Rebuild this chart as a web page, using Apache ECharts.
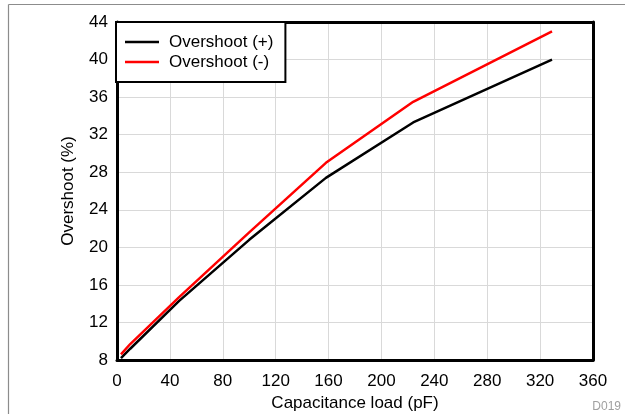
<!DOCTYPE html>
<html>
<head>
<meta charset="utf-8">
<script src="https://cdn.jsdelivr.net/npm/echarts@6/dist/echarts.min.js"></script>
<style>
html,body{margin:0;padding:0;background:#fff;}
#c{width:625px;height:414px;}
</style>
</head>
<body>
<div id="c"></div>
<script>
var xTicks = [0, 40, 80, 120, 160, 200, 240, 280, 320, 360];
var yTicks = [8, 12, 16, 20, 24, 28, 32, 36, 40, 44];
var capPlus  = [3, 10, 47, 100, 158, 224, 329];
var overPlus = [8.2, 9.2, 14.3, 20.8, 27.4, 33.3, 40.0];
var capMinus  = [3, 10, 47, 100, 158, 224, 329];
var overMinus = [8.6, 9.7, 14.7, 21.6, 29.0, 35.5, 43.0];
var seriesNames = ['Overshoot (+)', 'Overshoot (-)'];

function pairs(xs, ys) { return xs.map(function (x, i) { return [x, ys[i]]; }); }

var FONT = 'Liberation Sans, Arial, sans-serif';
var chart = echarts.init(document.getElementById('c'), null, {renderer: 'canvas'});
chart.setOption({
  animation: false,
  backgroundColor: '#fff',
  grid: {left: 117, right: 32, top: 22, bottom: 54, containLabel: false, outerBoundsMode: 'none'},
  legend: {
    orient: 'vertical', left: 116, top: 22,
    data: [{name: seriesNames[0], icon: 'rect'}, {name: seriesNames[1], icon: 'rect'}],
    itemWidth: 34, itemHeight: 2.5, itemGap: 0,
    padding: [10, 8, 10, 9],
    backgroundColor: '#fff', borderColor: '#000', borderWidth: 2,
    textStyle: {fontFamily: FONT, fontSize: 17, color: '#000', lineHeight: 20, padding: [0, 4, 0, 5]}
  },
  xAxis: [{
    type: 'value', min: xTicks[0], max: xTicks[xTicks.length - 1], interval: 40,
    name: 'Capacitance load (pF)', nameLocation: 'middle', nameGap: 33,
    nameTextStyle: {fontFamily: FONT, fontSize: 17, color: '#000'},
    axisLine: {show: true, onZero: false, lineStyle: {color: '#000', width: 3}},
    axisTick: {show: false},
    axisLabel: {fontFamily: FONT, fontSize: 17, color: '#000', margin: 13},
    splitLine: {show: true, lineStyle: {color: '#d9d9d9', width: 1}}
  }, {
    type: 'value', position: 'top', min: 0, max: 360, interval: 40,
    axisLine: {show: true, onZero: false, lineStyle: {color: '#000', width: 3}},
    axisTick: {show: false}, axisLabel: {show: false}, splitLine: {show: false}
  }],
  yAxis: [{
    type: 'value', min: yTicks[0], max: yTicks[yTicks.length - 1], interval: 4,
    name: 'Overshoot (%)', nameLocation: 'middle', nameGap: 40, nameRotate: 90,
    nameTextStyle: {fontFamily: FONT, fontSize: 17, color: '#000'},
    axisLine: {show: true, onZero: false, lineStyle: {color: '#000', width: 3}},
    axisTick: {show: false},
    axisLabel: {fontFamily: FONT, fontSize: 17, color: '#000', margin: 9},
    splitLine: {show: true, lineStyle: {color: '#d9d9d9', width: 1}}
  }, {
    type: 'value', position: 'right', min: 8, max: 44, interval: 4,
    axisLine: {show: true, onZero: false, lineStyle: {color: '#000', width: 3}},
    axisTick: {show: false}, axisLabel: {show: false}, splitLine: {show: false}
  }],
  series: [{
    name: seriesNames[0], type: 'line', data: pairs(capPlus, overPlus),
    showSymbol: false, symbol: 'none', z: 3,
    itemStyle: {color: '#000'}, lineStyle: {color: '#000', width: 2.5}
  }, {
    name: seriesNames[1], type: 'line', data: pairs(capMinus, overMinus),
    showSymbol: false, symbol: 'none', z: 4,
    itemStyle: {color: '#ff0000'}, lineStyle: {color: '#ff0000', width: 2.5}
  }],
  graphic: [
    {type: 'line', shape: {x1: 8.5, y1: 4.5, x2: 625, y2: 4.5}, style: {stroke: '#8c8c8c', lineWidth: 1.2}},
    {type: 'line', shape: {x1: 8.5, y1: 4.5, x2: 8.5, y2: 414}, style: {stroke: '#8c8c8c', lineWidth: 1.2}},
    {type: 'text', right: 4, bottom: 1, style: {text: 'D019', fontFamily: FONT, fontSize: 12, fill: '#a0a0a0'}}
  ]
});
</script>
</body>
</html>
